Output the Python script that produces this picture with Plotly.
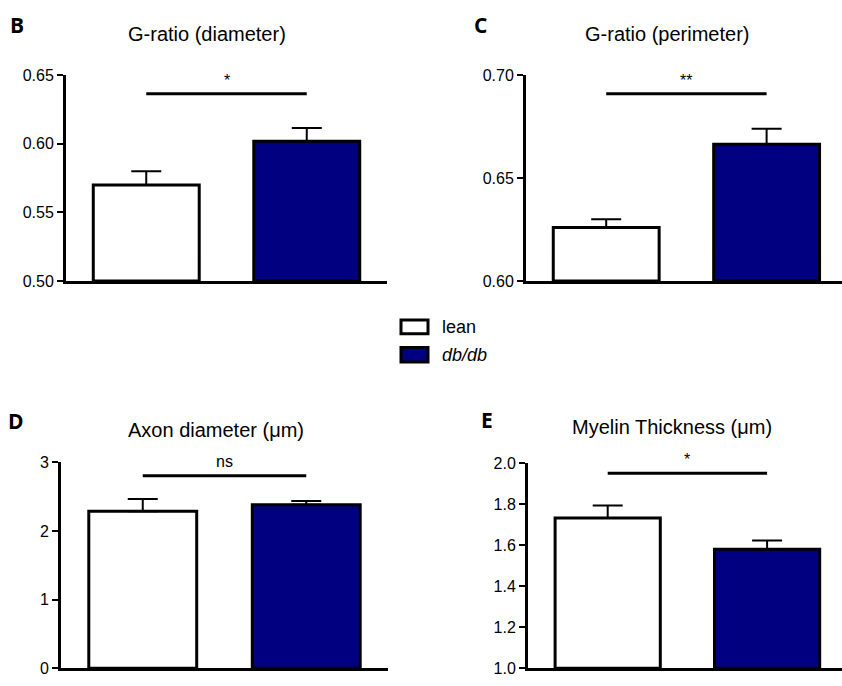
import plotly.graph_objects as go

W, H = 842, 686

groups = ["lean", "db/db"]
colors = ["white", "#000080"]

titles = ["G-ratio (diameter)", "G-ratio (perimeter)", "Axon diameter (μm)", "Myelin Thickness (μm)"]
letters = ["B", "C", "D", "E"]
means_B = [0.570, 0.602]
errs_B = [0.010, 0.0095]
means_C = [0.626, 0.6665]
errs_C = [0.004, 0.0075]
means_D = [2.289, 2.384]
errs_D = [0.178, 0.053]
means_E = [1.733, 1.581]
errs_E = [0.062, 0.043]
sig_y = [0.6365, 0.691, 2.807, 1.952]
sig_text = ["*", "**", "ns", "*"]
y_ranges = [[0.50, 0.65], [0.60, 0.70], [0, 3], [1.0, 2.0]]
y_dticks = [0.05, 0.05, 1, 0.2]
y_formats = [".2f", ".2f", "d", ".1f"]

means = [means_B, means_C, means_D, means_E]
errs = [errs_B, errs_C, errs_D, errs_E]

x_dom_px = [(66, 387), (526, 842), (61, 388), (528, 842)]
x_ranges = [[-0.5, 1.5], [-0.5, 1.47], [-0.5, 1.5], [-0.5, 1.47]]
y_dom_px = [(69, 280), (69, 280), (466, 677), (467, 677)]
title_pos = [(207, 27), (667, 27), (216, 433), (672, 430)]
letter_pos = [(8, 17), (472, 17), (6, 423), (479, 422)]

fig = go.Figure()
font_main = "Liberation Sans, Arial, sans-serif"

for i in range(4):
    k = "" if i == 0 else str(i + 1)
    xa = "x" + k
    ya = "y" + k
    for g in range(2):
        fig.add_trace(go.Bar(
            x=[g], y=[means[i][g] - y_ranges[i][0]], base=y_ranges[i][0],
            width=0.66,
            marker=dict(color=colors[g], line=dict(color="black", width=3)),
            error_y=dict(type="data", array=[errs[i][g]], arrayminus=[0], symmetric=False,
                         thickness=2, width=15, color="black"),
            xaxis=xa, yaxis=ya, showlegend=False, name=groups[g],
        ))
    fig.add_trace(go.Scatter(
        x=[0, 1], y=[sig_y[i], sig_y[i]], mode="lines",
        line=dict(color="black", width=3), xaxis=xa, yaxis=ya, showlegend=False,
        hoverinfo="skip",
    ))
    fig.add_annotation(x=0.5, y=sig_y[i], xref=xa, yref=ya, text=sig_text[i],
                       showarrow=False, yanchor="bottom", yshift=3 if sig_text[i] != "ns" else 4,
                       font=dict(family=font_main, size=16, color="black"))
    x0, x1 = x_dom_px[i]
    y0, y1 = y_dom_px[i]
    fig.layout["xaxis" + k] = dict(
        domain=[x0 / W, x1 / W], range=x_ranges[i], anchor=ya,
        showline=True, linecolor="black", linewidth=3, showgrid=False,
        zeroline=False, showticklabels=False, ticks="", fixedrange=True,
    )
    fig.layout["yaxis" + k] = dict(
        domain=[1 - y1 / H, 1 - y0 / H], range=y_ranges[i], anchor=xa,
        showline=True, linecolor="black", linewidth=3, showgrid=False,
        zeroline=False, ticks="outside", ticklen=6, tickwidth=2, tickcolor="black",
        dtick=y_dticks[i], tick0=y_ranges[i][0], tickformat=y_formats[i],
        tickfont=dict(family=font_main, size=16, color="black"),
    )
    tx, ty = title_pos[i]
    fig.add_annotation(x=tx / W, y=1 - ty / H, xref="paper", yref="paper", text=titles[i],
                       showarrow=False, xanchor="center", yanchor="middle",
                       font=dict(family=font_main, size=20, color="black"))
    lx, ly = letter_pos[i]
    fig.add_annotation(x=lx / W, y=1 - ly / H, xref="paper", yref="paper", text="<b>" + letters[i] + "</b>",
                       showarrow=False, xanchor="left", yanchor="middle",
                       font=dict(family="Open Sans, sans-serif", size=21, color="black"))

legend_rows = [(320, 334, 327), (348, 363, 355.5)]
for g, (r0, r1, rc) in enumerate(legend_rows):
    fig.add_shape(type="rect", xref="paper", yref="paper",
                  x0=401 / W, x1=428 / W, y0=1 - r1 / H, y1=1 - r0 / H,
                  line=dict(color="black", width=3), fillcolor=colors[g])
    label = groups[g] if g == 0 else "<i>" + groups[g] + "</i>"
    fig.add_annotation(x=440 / W, y=1 - rc / H, xref="paper", yref="paper", text=label,
                       showarrow=False, xanchor="left", yanchor="middle",
                       font=dict(family=font_main, size=18, color="black"))

fig.update_layout(
    width=W, height=H, margin=dict(l=0, r=0, t=0, b=0),
    paper_bgcolor="white", plot_bgcolor="white", barmode="overlay",
    showlegend=False,
)

fig.write_html("out.html")
